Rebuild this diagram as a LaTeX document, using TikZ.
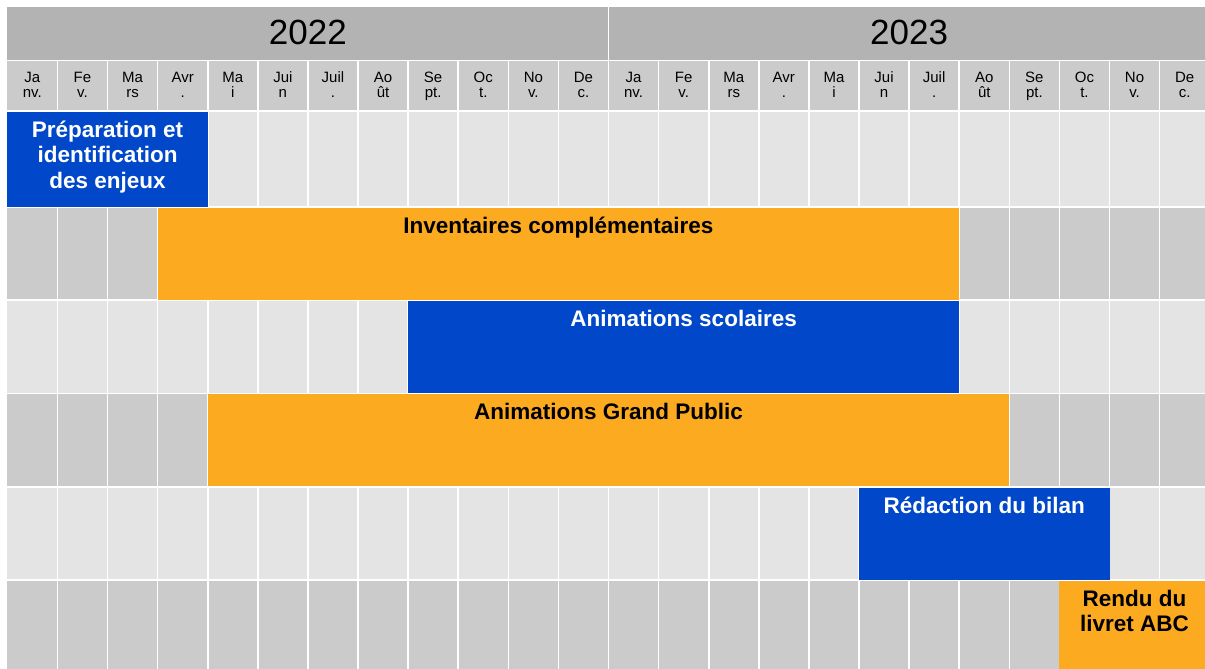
\documentclass[tikz,border=0pt]{standalone}
\usepackage{fontspec}
\setmainfont{Liberation Sans}
\usetikzlibrary{positioning}
\definecolor{BarBlue}{HTML}{0048C9}
\definecolor{BarOrange}{HTML}{FCAB21}
\definecolor{YearGray}{HTML}{B3B3B3}
\definecolor{MonthGray}{HTML}{CBCBCB}
\definecolor{RowLight}{HTML}{E4E4E4}
\definecolor{RowDark}{HTML}{CBCBCB}

\begin{document}
\begin{tikzpicture}[
  x=1pt, y=-1pt,
  % year header text
  yr/.style={font=\fontsize{35}{40}\selectfont, inner sep=0pt},
  % month header text (two lines, base = second line)
  mon/.style={font=\fontsize{15}{16}\selectfont, align=center,
              inner sep=0pt, anchor=base},
  % task bar
  bar/.style={anchor=north west, inner sep=0pt, outer sep=0pt},
  % task label (top of bar, base = last line)
  lbl/.style={font=\fontsize{22.5}{25.5}\selectfont\bfseries,
              align=center, inner sep=0pt, anchor=base},
  % white grid lines
  sep/.style={draw=white, line width=1.6pt},
]

\useasboundingbox (0,0) rectangle (1205,669);
\clip (0,0) rectangle (1205,669);

%% -- grid origin and column width --------------------------------------
\def\xo{7.3}   % left edge of the chart
\def\cw{50.1}  % one month
\def\xe{1212}  % right edge (cut by the page)

%% -- row tops ------------------------------------------------------------
\def\rI{111}
\def\rII{206.8}
\def\rIII{300.1}
\def\rIV{393.4}
\def\rV{486.7}
\def\rVI{580.0}

%% -- background cells ------------------------------------------------------
\fill[YearGray]  (\xo,7)  rectangle (\xe,60.5);
\fill[MonthGray] (\xo,60.5) rectangle (\xe,\rI);
\foreach \t/\b/\c in {\rI/\rII/RowLight, \rII/\rIII/RowDark,
                      \rIII/\rIV/RowLight, \rIV/\rV/RowDark,
                      \rV/\rVI/RowLight, \rVI/675/RowDark}
  \fill[\c] (\xo,\t) rectangle (\xe,\b);

%% -- white grid lines ----------------------------------------------------
\foreach \i in {1,...,23}
  \draw[sep] (\xo+\i*\cw,60.5) -- (\xo+\i*\cw,675);
\draw[sep] (\xo+12*\cw,7) -- (\xo+12*\cw,60.5);
\foreach \y in {60.5,\rI,\rII,\rIII,\rIV,\rV,\rVI}
  \draw[sep] (\xo,\y) -- (\xe,\y);

%% -- years and months ------------------------------------------------------
\node[yr] (y2022) at (\xo+6*\cw,32) {2022};
\node[yr] (y2023) at (\xo+18*\cw,32) {2023};
\foreach \k in {0,1}
  \foreach \m [count=\i from 0] in {{Ja\\nv.},{Fe\\v.},{Ma\\rs},{Avr\\.},
      {Ma\\i},{Jui\\n},{Juil\\.},{Ao\\ût},{Se\\pt.},{Oc\\t.},{No\\v.},{De\\c.}}
    \node[mon] (m\k-\i) at (\xo+\k*12*\cw+\i*\cw+\cw/2,98) {\m};

%% -- task bars -------------------------------------------------------------
\node[bar, fill=BarBlue, minimum width=\cw*4pt, minimum height=95pt]
  (prep) at (\xo,\rI+0.8) {};
\node[bar, fill=BarOrange, minimum width=\cw*16pt, minimum height=92pt]
  (inv) at (\xo+3*\cw,\rII+0.8) {};
\node[bar, fill=BarBlue, minimum width=\cw*11pt, minimum height=92pt]
  (scol) at (\xo+8*\cw,\rIII+0.8) {};
\node[bar, fill=BarOrange, minimum width=\cw*16pt, minimum height=92pt]
  (gp) at (\xo+4*\cw,\rIV+0.8) {};
\node[bar, fill=BarBlue, minimum width=\cw*5pt, minimum height=92pt]
  (bilan) at (\xo+17*\cw,\rV+0.8) {};
\node[bar, fill=BarOrange, minimum width=\cw*3pt, minimum height=95pt]
  (rendu) at (\xo+21*\cw,\rVI+0.8) {};

%% -- bar labels ------------------------------------------------------------
\node[lbl, text=white] (prep-l) at ([yshift=-76.5pt]prep.north)
  {Préparation et\\identification\\des enjeux};
\node[lbl] (inv-l) at ([yshift=-25.5pt]inv.north) {Inventaires complémentaires};
\node[lbl, text=white] (scol-l) at ([yshift=-25.5pt]scol.north) {Animations scolaires};
\node[lbl] (gp-l) at ([yshift=-25.5pt]gp.north) {Animations Grand Public};
\node[lbl, text=white] (bilan-l) at ([yshift=-25.5pt]bilan.north) {Rédaction du bilan};
\node[lbl] (rendu-l) at ([yshift=-51pt]rendu.north) {Rendu du\\livret ABC};

\end{tikzpicture}
\end{document}
